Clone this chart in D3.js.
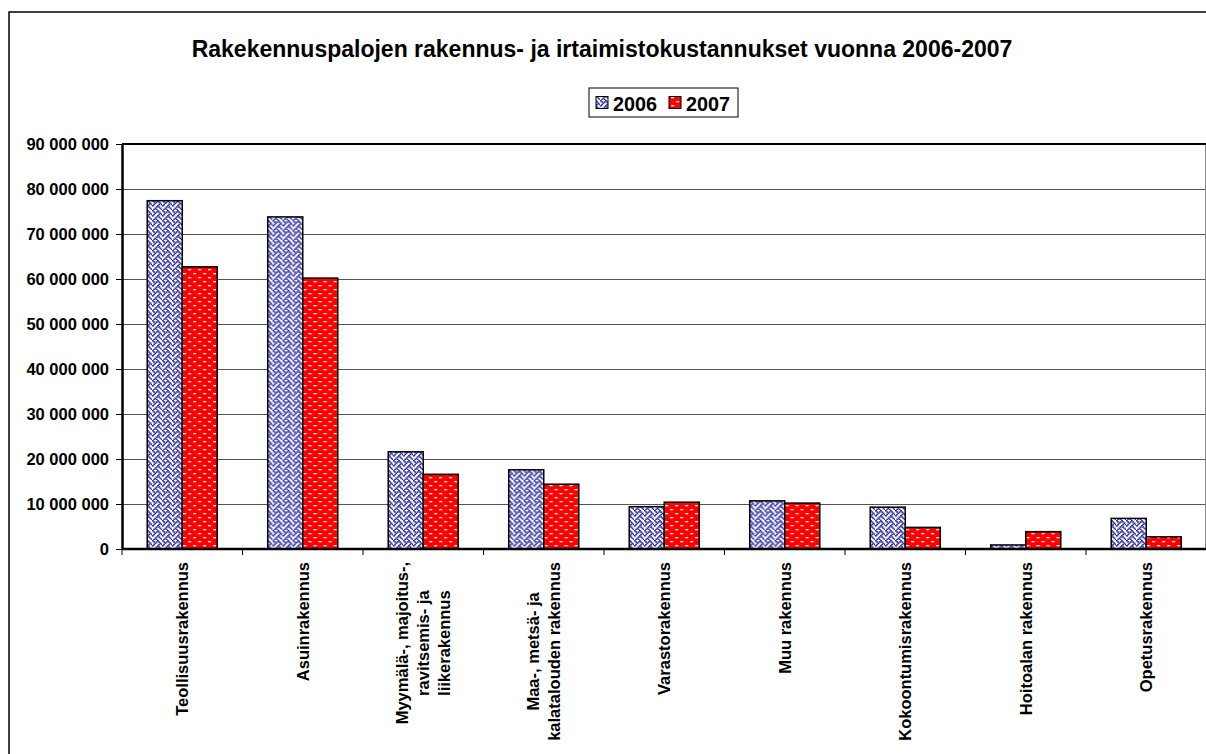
<!DOCTYPE html>
<html>
<head>
<meta charset="utf-8">
<script src="https://cdn.jsdelivr.net/npm/d3@7"></script>
<style>
  html, body { margin: 0; padding: 0; background: #fff; }
  svg { display: block; font-family: "Liberation Sans", Arial, sans-serif; }
</style>
</head>
<body>
<svg id="chart" width="1206" height="754"></svg>
<script>
// ---- data ----
const title = "Rakekennuspalojen rakennus- ja irtaimistokustannukset vuonna 2006-2007";
const categories = [
  "Teollisuusrakennus",
  "Asuinrakennus",
  "Myymälä-, majoitus-,\nravitsemis- ja\nliikerakennus",
  "Maa-, metsä- ja\nkalatalouden rakennus",
  "Varastorakennus",
  "Muu rakennus",
  "Kokoontumisrakennus",
  "Hoitoalan rakennus",
  "Opetusrakennus"
];
const series = ["2006", "2007"];
const values2006 = [77400000, 73800000, 21600000, 17600000, 9400000, 10700000, 9300000, 900000, 6800000];
const values2007 = [62700000, 60200000, 16600000, 14400000, 10400000, 10200000, 4800000, 3850000, 2700000];
const yTickValues = [0, 10000000, 20000000, 30000000, 40000000, 50000000, 60000000, 70000000, 80000000, 90000000];

// ---- layout ----
const svg = d3.select("#chart");
const pL = 122, pR = 1206.5, pT = 144, pB = 549;

const x = d3.scaleBand().domain(categories).range([pL, pR]).paddingInner(0).paddingOuter(0);
const x1 = d3.scaleBand().domain(series).range([0, x.bandwidth()]).paddingInner(0).paddingOuter(0.72);
const y = d3.scaleLinear().domain([0, 90000000]).range([pB, pT]);

const fmt = d3.formatLocale({decimal: ",", thousands: " ", grouping: [3], currency: ["", ""]}).format(",d");

// ---- patterns ----
const defs = svg.append("defs");
const weave = ["10001000","01010100","00100010","01000101","10001000","00010100","00100010","01010001"];
const pw = defs.append("pattern").attr("id", "p2006").attr("patternUnits", "userSpaceOnUse")
  .attr("width", 10).attr("height", 10);
pw.append("rect").attr("width", 10).attr("height", 10).attr("fill", "#ffffff");
weave.forEach((row, r) => {
  row.split("").forEach((b, c) => {
    if (b === "1") pw.append("rect").attr("x", c * 1.25).attr("y", r * 1.25)
      .attr("width", 1.9).attr("height", 1.6).attr("fill", "#3434a6");
  });
});
const pr = defs.append("pattern").attr("id", "p2007").attr("patternUnits", "userSpaceOnUse")
  .attr("width", 10).attr("height", 8);
pr.append("rect").attr("width", 10).attr("height", 8).attr("fill", "#ff0000");
pr.append("rect").attr("x", 1).attr("y", 1).attr("width", 3.2).attr("height", 1.3).attr("fill", "#ffe8e8");
pr.append("rect").attr("x", 6).attr("y", 5).attr("width", 3.2).attr("height", 1.3).attr("fill", "#ffe8e8");
const fills = {"2006": "url(#p2006)", "2007": "url(#p2007)"};

// ---- outer chart border ----
svg.append("rect").attr("x", 9).attr("y", 12).attr("width", 1220).attr("height", 770)
  .attr("fill", "none").attr("stroke", "#000").attr("stroke-width", 1.5);

// ---- title ----
svg.append("text").attr("x", 602).attr("y", 57).attr("text-anchor", "middle")
  .attr("font-size", 23).attr("font-weight", "bold").text(title);

// ---- legend ----
const lg = svg.append("g");
lg.append("rect").attr("x", 589).attr("y", 88).attr("width", 149).attr("height", 29)
  .attr("fill", "#fff").attr("stroke", "#000").attr("stroke-width", 1);
const legendX = {"2006": 596, "2007": 669};
series.forEach(s => {
  lg.append("rect").attr("x", legendX[s]).attr("y", 96.5).attr("width", 12).attr("height", 12)
    .attr("fill", fills[s]).attr("stroke", "#000").attr("stroke-width", 1);
  lg.append("text").attr("x", legendX[s] + 17).attr("y", 110.5)
    .attr("font-size", 19.8).attr("font-weight", "bold").text(s);
});

// ---- gridlines ----
svg.append("g").attr("transform", `translate(${pL},0)`)
  .call(d3.axisLeft(y).tickValues(yTickValues).tickSize(-(pR - pL)).tickFormat(""))
  .call(g => g.select(".domain").remove())
  .call(g => g.selectAll(".tick line").attr("stroke", "#555").attr("stroke-width", 1));

// right border of plot
svg.append("line").attr("x1", 1205.5).attr("x2", 1205.5).attr("y1", pT).attr("y2", pB)
  .attr("stroke", "#888").attr("stroke-width", 1);
// top border of plot
svg.append("line").attr("x1", pL).attr("x2", pR).attr("y1", y(90000000)).attr("y2", y(90000000))
  .attr("stroke", "#000").attr("stroke-width", 2);

// ---- bars ----
const rows = categories.map((c, i) => ({c, v: {"2006": values2006[i], "2007": values2007[i]}}));
const grp = svg.append("g").selectAll("g").data(rows).join("g")
  .attr("transform", d => `translate(${x(d.c)},0)`);
grp.selectAll("rect").data(d => series.map(s => ({s, v: d.v[s]}))).join("rect")
  .attr("x", d => x1(d.s)).attr("width", x1.bandwidth())
  .attr("y", d => y(d.v)).attr("height", d => y(0) - y(d.v))
  .attr("fill", d => fills[d.s]).attr("stroke", "#000").attr("stroke-width", 1.5);

// ---- y axis ----
svg.append("g").attr("transform", `translate(${pL},0)`)
  .call(d3.axisLeft(y).tickValues(yTickValues).tickSize(6).tickSizeOuter(0).tickPadding(7).tickFormat(fmt))
  .call(g => g.select(".domain").attr("stroke-width", 2.5))
  .call(g => g.selectAll(".tick line").attr("stroke", "#000"))
  .call(g => g.selectAll(".tick text").attr("font-size", 16.5).attr("font-weight", "bold")
    .attr("font-family", "'Liberation Sans', Arial, sans-serif").attr("fill", "#000"));

// ---- x axis ----
const xa = svg.append("g");
xa.append("line").attr("x1", pL).attr("x2", pR).attr("y1", y(0)).attr("y2", y(0))
  .attr("stroke", "#000").attr("stroke-width", 2.5);
const bounds = categories.map(c => x(c)).concat([x.range()[1]]);
xa.selectAll("line.tk").data(bounds).join("line").attr("class", "tk")
  .attr("x1", d => d).attr("x2", d => d).attr("y1", y(0)).attr("y2", y(0) + 6)
  .attr("stroke", "#000").attr("stroke-width", 1);

const lineH = 21;
categories.forEach(c => {
  const lines = c.split("\n");
  const g = xa.append("g").attr("transform", `translate(${x(c) + x.bandwidth() / 2},${y(0) + 13}) rotate(-90)`);
  const texts = lines.map((ln, i) => g.append("text")
    .attr("y", (i - (lines.length - 1) / 2) * lineH)
    .attr("dy", "0.35em")
    .attr("text-anchor", "middle")
    .attr("font-size", 16.5).attr("font-weight", "bold").text(ln));
  const maxLen = d3.max(texts, t => t.node().getComputedTextLength());
  texts.forEach(t => t.attr("x", -maxLen / 2));
});
</script>
</body>
</html>
